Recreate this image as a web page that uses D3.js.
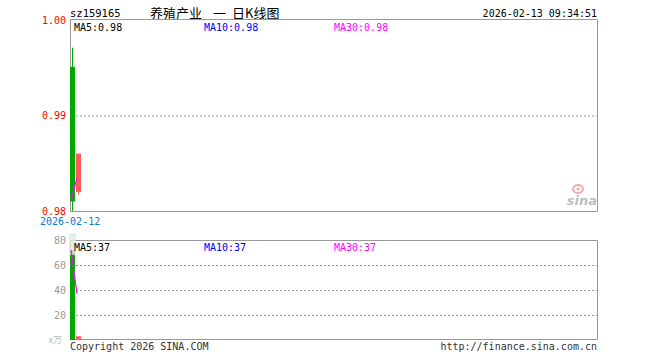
<!DOCTYPE html>
<html><head><meta charset="utf-8">
<script src="https://cdn.jsdelivr.net/npm/d3@7"></script>
<style>body{margin:0;background:#fff}svg{display:block}</style>
</head><body>
<svg id="c" width="660" height="360"></svg>
<script>
const code = "sz159165";
const titleParts = ["养殖产业", "一", "日K线图"];
const stamp = "2026-02-13 09:34:51";
const dates = ["2026-02-12", "2026-02-13"];
const openP = [0.9951, 0.9820];
const closeP = [0.9810, 0.9860];
const highP = [0.9971, 0.9860];
const lowP = [0.9800, 0.9817];
const ma5P = [0.9810, 0.9835];
const volume = [72, 3];
const ma5V = [72, 37];
const priceTicks = [1.00, 0.99, 0.98];
const volTicks = [80, 60, 40, 20];
const slots = 88;

const svg = d3.select("#c");
const mono = "'DejaVu Sans Mono', monospace";
const L = 70, R = 598;
const x = d3.scaleLinear().domain([0, slots]).range([L, R]);
const yP = d3.scaleLinear().domain([0.98, 1.00]).range([211, 20]);
const yV = d3.scaleLinear().domain([0, 80]).range([340, 240]);
const GREEN = "#00a800", RED = "#ff5a5a", MAG = "#ff00ff", BLUE = "#0000ff";

// header
svg.append("text").attr("x", 70).attr("y", 17).attr("font-family", mono).attr("font-size", 10.5).attr("fill", "#000").text(code);
const tx = [150, 213, 232];
titleParts.forEach((t, i) => svg.append("text").attr("x", tx[i]).attr("y", 18).attr("font-family", "'Noto Sans CJK SC'").attr("font-size", 13).attr("fill", "#000").text(t));
svg.append("text").attr("x", 597).attr("y", 17).attr("text-anchor", "end").attr("font-family", mono).attr("font-size", 10).attr("fill", "#000").text(stamp);

// price gridline
priceTicks.filter(t => t > 0.98 && t < 1.0).forEach(t => {
  svg.append("line").attr("x1", L + 6).attr("x2", R).attr("y1", yP(t) + 0.5).attr("y2", yP(t) + 0.5)
    .attr("stroke", "#999").attr("stroke-dasharray", "2,2");
});
const ax1 = svg.append("g").attr("transform", `translate(${L - 2},0)`)
  .call(d3.axisLeft(yP).tickValues(priceTicks).tickFormat(d3.format(".2f")).tickSize(0).tickPadding(2));
ax1.select(".domain").remove();
ax1.selectAll("text").attr("fill", "#ff0000").attr("font-family", mono).attr("font-size", 10);

// volume gridlines
volTicks.filter(t => t < 80).forEach(t => {
  svg.append("line").attr("x1", L + 6).attr("x2", R).attr("y1", yV(t) + 0.5).attr("y2", yV(t) + 0.5)
    .attr("stroke", "#999").attr("stroke-dasharray", "2,2");
});
const ax2 = svg.append("g").attr("transform", `translate(${L - 2},0)`)
  .call(d3.axisLeft(yV).tickValues(volTicks).tickSize(0).tickPadding(2));
ax2.select(".domain").remove();
ax2.selectAll("text").attr("fill", "#999").attr("font-family", mono).attr("font-size", 10);
svg.append("text").attr("x", 62).attr("y", 343).attr("text-anchor", "end").attr("font-family", "'Noto Sans CJK SC'").attr("font-size", 9).attr("fill", "#bbb").text("x万");

// sina logo
const lg = svg.append("g").attr("opacity", 0.55);
lg.append("ellipse").attr("cx", 578).attr("cy", 189).attr("rx", 5).attr("ry", 4).attr("fill", "none").attr("stroke", "#f06060").attr("stroke-width", 2);
lg.append("circle").attr("cx", 578).attr("cy", 189).attr("r", 1.5).attr("fill", "#f06060");
lg.append("text").attr("x", 597).attr("y", 205).attr("text-anchor", "end").attr("font-family", "'DejaVu Sans'").attr("font-style", "italic").attr("font-weight", "bold").attr("font-size", 13).attr("fill", "#888").text("sina");

// frames
svg.append("path").attr("d", `M${L + 0.5},211.5V19.5H${R - 0.5}V211.5H${L}`).attr("fill", "none").attr("stroke", "#999");
svg.append("path").attr("d", `M${L + 0.5},339.5V240.5H${R - 0.5}V339.5H${L}`).attr("fill", "none").attr("stroke", "#999");

// candles + volume bars
dates.forEach((d, i) => {
  const up = closeP[i] >= openP[i];
  const col = up ? RED : GREEN;
  const cx = x(i) + 2.5;
  svg.append("line").attr("x1", cx).attr("x2", cx).attr("y1", yP(highP[i])).attr("y2", yP(lowP[i])).attr("stroke", col);
  const top = yP(Math.max(openP[i], closeP[i])), bot = yP(Math.min(openP[i], closeP[i]));
  svg.append("rect").attr("x", x(i)).attr("y", top).attr("width", 5).attr("height", Math.max(1, bot - top)).attr("fill", col);
  svg.append("rect").attr("x", x(i)).attr("y", yV(volume[i])).attr("width", 5).attr("height", 340 - yV(volume[i])).attr("fill", col);
});
svg.append("rect").attr("x", x(0) - 1).attr("y", 233).attr("width", 7).attr("height", 22).attr("fill", "#dfeedd").attr("opacity", 0.8);

// MA lines
svg.append("path").datum(ma5P).attr("d", d3.line().x((d, i) => x(i) + 1).y(d => yP(d)))
  .attr("fill", "none").attr("stroke", MAG).attr("stroke-width", 1.2);
svg.append("path").datum(ma5V).attr("d", d3.line().x((d, i) => x(i) + 1).y(d => yV(d)))
  .attr("fill", "none").attr("stroke", MAG).attr("stroke-width", 1.2);

// MA labels
const maP = [["MA5:0.98", "#000", 74], ["MA10:0.98", BLUE, 204], ["MA30:0.98", MAG, 334]];
maP.forEach(([t, c, px]) => svg.append("text").attr("x", px).attr("y", 31).attr("font-family", mono).attr("font-size", 10).attr("fill", c).text(t));
const maV = [["MA5:37", "#000", 74], ["MA10:37", BLUE, 204], ["MA30:37", MAG, 334]];
maV.forEach(([t, c, px]) => svg.append("text").attr("x", px).attr("y", 251).attr("font-family", mono).attr("font-size", 10).attr("fill", c).text(t));

// date label
svg.append("text").attr("x", 40).attr("y", 225).attr("font-family", mono).attr("font-size", 10).attr("fill", "#0080d0").text(dates[0]);

// footer
svg.append("text").attr("x", 70).attr("y", 350).attr("font-family", mono).attr("font-size", 10).attr("fill", "#333").text("Copyright 2026 SINA.COM");
svg.append("text").attr("x", 597).attr("y", 350).attr("text-anchor", "end").attr("font-family", mono).attr("font-size", 10).attr("fill", "#333").text("http://finance.sina.com.cn");
</script>
</body></html>
